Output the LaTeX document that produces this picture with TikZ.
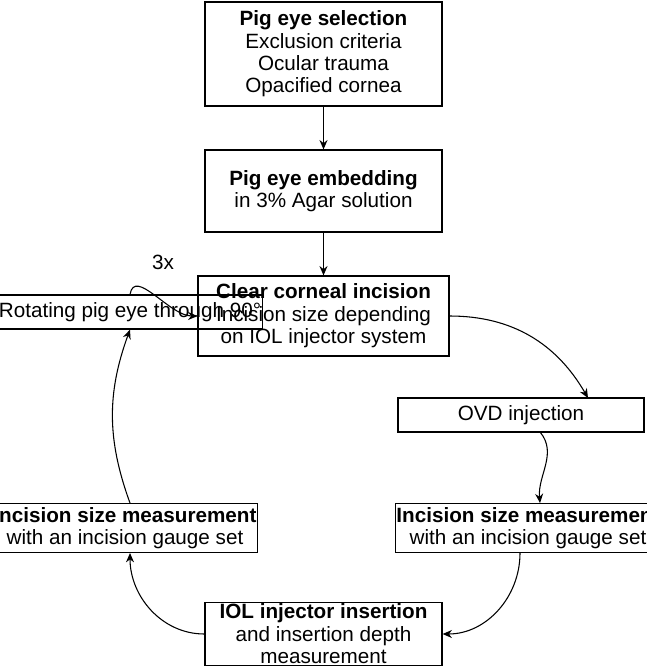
\documentclass[tikz,border=0pt]{standalone}
\usepackage{fontspec}
\setmainfont{Liberation Sans}
\usetikzlibrary{arrows.meta}
\tikzset{
  box/.style={draw,line width=0.9pt,align=center,inner sep=1pt,
    font=\fontsize{15.5}{16.8}\selectfont},
  flow/.style={line width=0.8pt,-{Stealth[length=7pt,width=6pt]}}
}
\begin{document}
\begin{tikzpicture}[x=0.75pt,y=-0.75pt]
	    \useasboundingbox (0,0) rectangle (646,666);
	    \node[box,minimum width=177.75pt,minimum height=78pt](sel) at (323.5,54){\textbf{Pig eye selection}\\Exclusion criteria\\Ocular trauma\\Opacified cornea};
	    \node[box,minimum width=177.75pt,minimum height=61.5pt](emb) at (323.5,191){\textbf{Pig eye embedding}\\in 3\% Agar solution};
	    \node[box,minimum width=188.25pt,minimum height=60pt](cci) at (323.5,316){\textbf{Clear corneal incision}\\Incision size depending\\on IOL injector system};
	    \node[box,minimum width=184.5pt,minimum height=25.5pt](ovd) at (521,415){OVD injection};
	    \node[box,minimum width=183pt,minimum height=25.5pt](rot) at (130,312){Rotating pig eye through 90°};
	    \node[box,minimum width=184.5pt,minimum height=36.75pt](ml) at (125,528){\textbf{Incision size measurement}\\with an incision gauge set};
	    \node[box,minimum width=174pt,minimum height=36.75pt](mr) at (528,528){\textbf{Incision size measurement}\\with an incision gauge set};
	    \node[box,minimum width=177.75pt,minimum height=43.5pt](iol) at (323.5,634){\textbf{IOL injector insertion}\\and insertion depth\\measurement};
	    \node[font=\fontsize{15.5}{16}\selectfont] (rep) at (163,262){3x};
	    \coordinate (ovdin) at (588,398);
	    \coordinate (ovdout) at (540,432);
	    \coordinate (mrin) at (540,503);
	    \coordinate (mrout) at (520,553);
	    \coordinate (mlin) at (130,553);
	    \coordinate (mlout) at (130,503);
	    \draw[flow](cci.east) to[out=0,in=120] (ovdin);
	    \draw[flow](sel)--(emb);
	    \draw[flow](emb)--(cci);
	    \draw[flow](ovdout) to[out=-50,in=95] (mrin);
	    \draw[flow](mrout) to[out=-90,in=0] (iol.east);
	    \draw[flow](iol.west) to[out=180,in=-90] (mlin);
	    \draw[flow](mlout) to[out=110,in=-110] (rot.south);
	    \draw[flow](rot.north) to[out=80,in=180] (cci.west);
\end{tikzpicture}
\end{document}
